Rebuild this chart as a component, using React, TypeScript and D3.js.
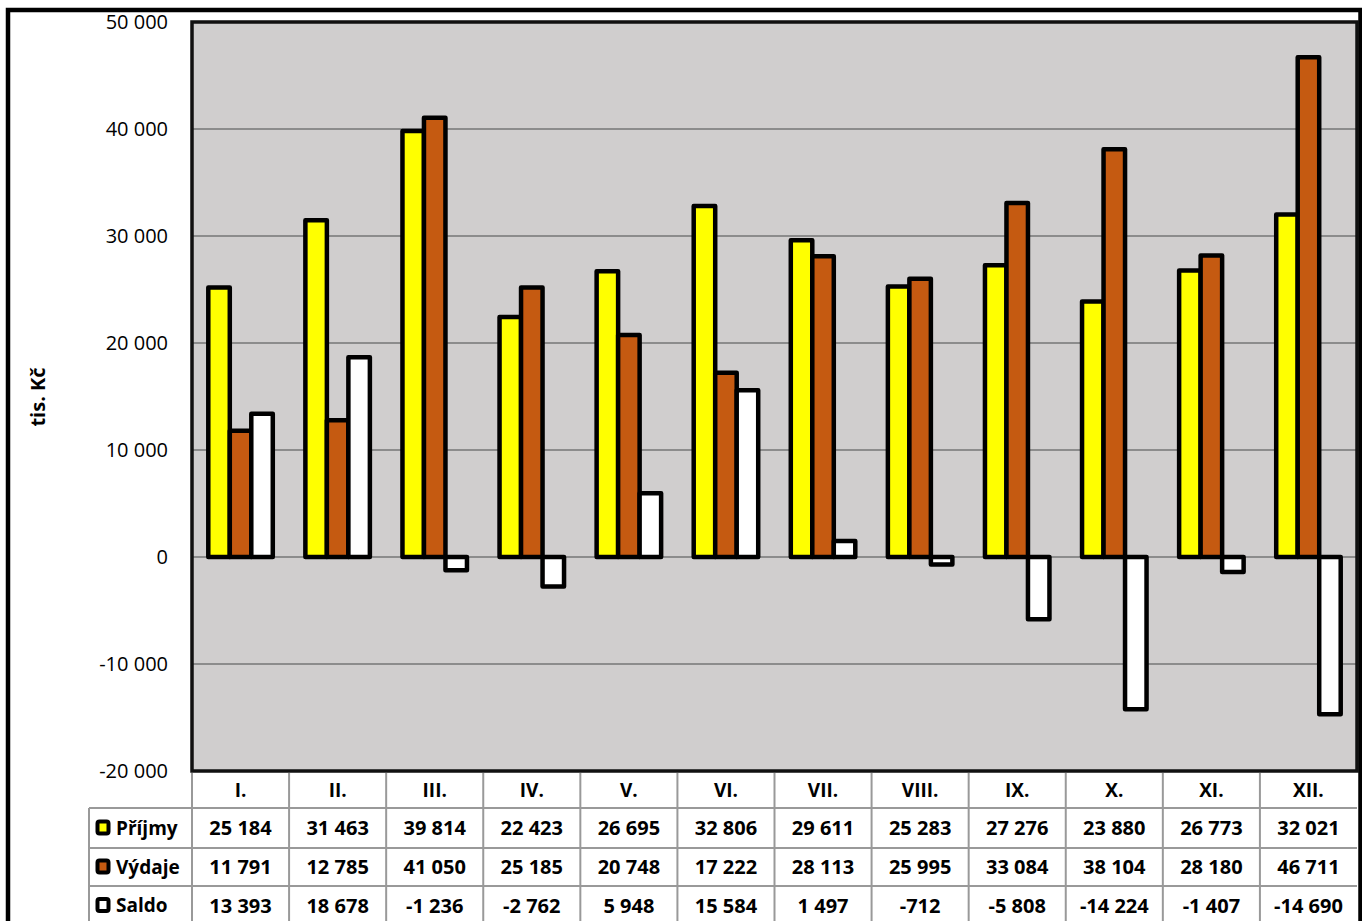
import React from 'react';
import * as d3 from 'd3';

const months = ['I.', 'II.', 'III.', 'IV.', 'V.', 'VI.', 'VII.', 'VIII.', 'IX.', 'X.', 'XI.', 'XII.'];
const prijmy = [25184, 31463, 39814, 22423, 26695, 32806, 29611, 25283, 27276, 23880, 26773, 32021];
const vydaje = [11791, 12785, 41050, 25185, 20748, 17222, 28113, 25995, 33084, 38104, 28180, 46711];
const saldo = [13393, 18678, -1236, -2762, 5948, 15584, 1497, -712, -5808, -14224, -1407, -14690];
const seriesNames = ['Příjmy', 'Výdaje', 'Saldo'];
const seriesColors = ['#FFFF00', '#C55A11', '#FFFFFF'];
const yTicks = [-20000, -10000, 0, 10000, 20000, 30000, 40000, 50000];
const yTitle = 'tis. Kč';

const W = 1362;
const H = 921;
const plotL = 192;
const plotR = 1357;
const plotT = 22;
const plotB = 771;
const tableL = 89;
const headerB = 808;
const rowBounds = [808, 848, 886, 925];

const fmt = (v: number) => {
  const s = Math.abs(v).toString().replace(/\B(?=(\d{3})+(?!\d))/g, ' ');
  return (v < 0 ? '-' : '') + s;
};

export default function App() {
  const series = [prijmy, vydaje, saldo];
  const x = d3.scaleBand<string>().domain(months).range([plotL, plotR]).paddingInner(0).paddingOuter(0);
  const y = d3.scaleLinear().domain([-20000, 50000]).range([plotB, plotT]);
  const groupW = 64.5;
  const font = "'Open Sans', 'Noto Sans', sans-serif";

  return (
    <svg width={W} height={H} style={{ position: 'absolute', left: 0, top: 0, background: '#fff' }}>
      {/* plot background */}
      <rect x={plotL} y={plotT} width={plotR - plotL} height={plotB - plotT} fill="#D0CECE" />
      {/* gridlines */}
      {yTicks.filter(t => t !== -20000 && t !== 50000).map(t => (
        <line key={t} x1={plotL} x2={plotR} y1={y(t)} y2={y(t)} stroke="#8C8C8C" strokeWidth={2} />
      ))}
      {/* bars */}
      {months.map((m, mi) => {
        const c = (x(m) as number) + x.bandwidth() / 2;
        const xs = d3.scaleBand<number>().domain([0, 1, 2]).range([c - groupW / 2, c + groupW / 2]);
        return (
          <g key={m}>
            {series.map((s, si) => {
              const v = s[mi];
              const y0 = y(0);
              const yv = y(v);
              return (
                <rect
                  key={si}
                  x={xs(si)}
                  y={Math.min(y0, yv)}
                  width={xs.bandwidth()}
                  height={Math.abs(yv - y0)}
                  fill={seriesColors[si]}
                  stroke="#000"
                  strokeWidth={4.5}
                  strokeLinejoin="round"
                />
              );
            })}
          </g>
        );
      })}
      {/* plot border */}
      <rect x={plotL} y={plotT} width={plotR - plotL} height={plotB - plotT} fill="none" stroke="#111" strokeWidth={3.5} />
      {/* y tick labels */}
      {yTicks.map(t => (
        <text key={t} x={168} y={y(t)} dy="0.36em" textAnchor="end" fontFamily={font} fontSize={20} fill="#000">
          {fmt(t)}
        </text>
      ))}
      {/* y axis title */}
      <text
        transform={`translate(38,397) rotate(-90)`}
        textAnchor="middle"
        dy="0.36em"
        fontFamily={font}
        fontWeight="bold"
        fontSize={20}
      >
        {yTitle}
      </text>
      {/* table lines */}
      {months.map((m, mi) => (
        <line key={'v' + mi} x1={x(m) as number} x2={x(m) as number} y1={plotB + 2} y2={H + 5} stroke="#999" strokeWidth={2} />
      ))}
      <line x1={tableL} x2={tableL} y1={headerB} y2={H + 5} stroke="#999" strokeWidth={2} />
      {rowBounds.slice(0, 3).map((rb, i) => (
        <line key={'h' + i} x1={tableL} x2={plotR} y1={rb} y2={rb} stroke="#999" strokeWidth={2} />
      ))}
      {/* header labels */}
      {months.map(m => (
        <text key={'c' + m} x={(x(m) as number) + x.bandwidth() / 2} y={(plotB + headerB) / 2 + 1} dy="0.36em"
          textAnchor="middle" fontFamily={font} fontWeight="bold" fontSize={19}>
          {m}
        </text>
      ))}
      {/* table rows */}
      {series.map((s, si) => {
        const cy = (rowBounds[si] + rowBounds[si + 1]) / 2;
        return (
          <g key={'r' + si}>
            <rect x={97.5} y={cy - 6.5} width={11} height={12} fill={seriesColors[si]} stroke="#000" strokeWidth={4} rx={2} />
            <text x={116} y={cy} dy="0.36em" fontFamily={font} fontWeight="bold" fontSize={19}>
              {seriesNames[si]}
            </text>
            {months.map((m, mi) => (
              <text key={m} x={(x(m) as number) + x.bandwidth() / 2} y={cy} dy="0.36em" textAnchor="middle"
                fontFamily={font} fontWeight="bold" fontSize={20}>
                {fmt(s[mi])}
              </text>
            ))}
          </g>
        );
      })}
      {/* outer frame */}
      <rect x={8} y={10} width={1352.5} height={1000} fill="none" stroke="#000" strokeWidth={4.5} />
    </svg>
  );
}
